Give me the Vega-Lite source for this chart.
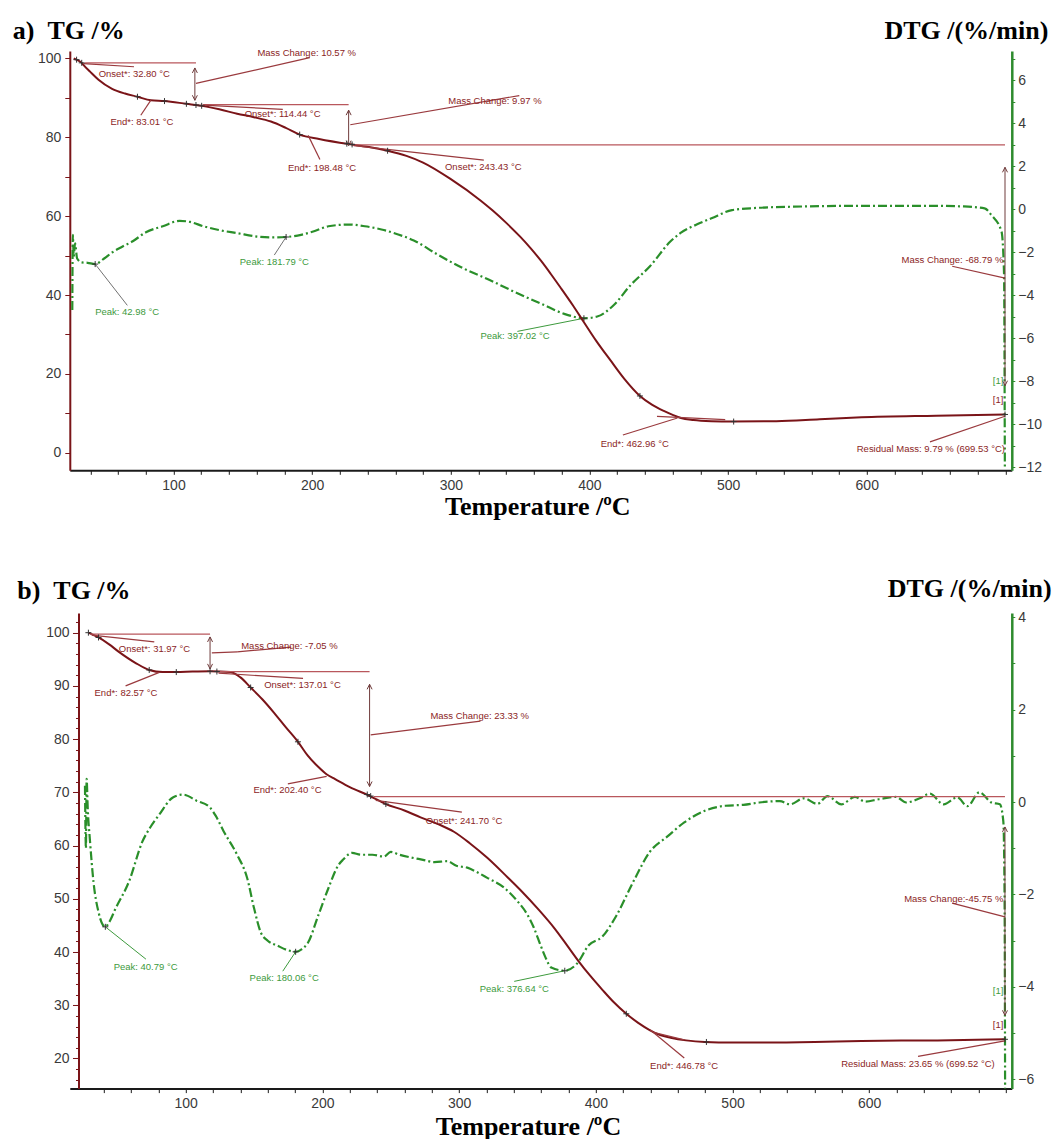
{
  "$schema": "https://vega.github.io/schema/vega-lite/v6.json",
  "background": "white",
  "padding": {"left": 11.8, "top": 17, "right": 2, "bottom": 0},
  "spacing": 142,
  "bounds": "flush",
  "config": {
    "view": {"stroke": null},
    "axis": {"grid": false, "labelFont": "Liberation Sans", "labelFontSize": 14, "labelColor": "#3a3a3a", "labelOverlap": false, "labelFlush": false, "titleFont": "Liberation Serif", "titleFontSize": 26, "titleFontWeight": "bold", "titleColor": "#000000"},
    "text": {"font": "Liberation Sans", "fontSize": 9.5}
  },
  "datasets": {
    "aTG": [
      {"T": 28, "v": 100.0}, {"T": 30.1, "v": 99.7}, {"T": 33.8, "v": 98.9}, {"T": 35, "v": 98.4}, {"T": 40, "v": 96.6}, {"T": 45.9, "v": 94.6}, {"T": 55.7, "v": 92.3}, {"T": 65, "v": 91.1}, {"T": 74, "v": 90.3}, {"T": 83.7, "v": 89.4}, {"T": 93.5, "v": 89.2}, {"T": 109.3, "v": 88.5}, {"T": 120.3, "v": 88.0}, {"T": 133, "v": 87.1}, {"T": 145.9, "v": 86.0}, {"T": 158, "v": 85.1}, {"T": 170.3, "v": 84.0}, {"T": 181, "v": 82.4}, {"T": 191, "v": 80.7}, {"T": 205, "v": 79.6}, {"T": 226.3, "v": 78.3}, {"T": 240, "v": 77.6}, {"T": 254.4, "v": 76.6}, {"T": 268, "v": 75.3}, {"T": 280, "v": 73.6}, {"T": 300, "v": 69.4}, {"T": 321.4, "v": 64.0}, {"T": 330, "v": 61.5}, {"T": 340, "v": 58.3}, {"T": 350, "v": 54.8}, {"T": 357.5, "v": 51.9}, {"T": 365, "v": 48.7}, {"T": 372, "v": 45.4}, {"T": 379.1, "v": 41.9}, {"T": 388, "v": 37.4}, {"T": 396, "v": 33.1}, {"T": 405, "v": 28.3}, {"T": 415.2, "v": 23.4}, {"T": 425, "v": 18.8}, {"T": 436.4, "v": 14.4}, {"T": 445, "v": 12.2}, {"T": 453.6, "v": 10.6}, {"T": 460, "v": 9.6}, {"T": 466, "v": 8.8}, {"T": 475, "v": 8.3}, {"T": 488, "v": 8.0}, {"T": 502.8, "v": 7.9}, {"T": 534.8, "v": 8.0}, {"T": 566, "v": 8.5}, {"T": 596.3, "v": 9.0}, {"T": 650, "v": 9.4}, {"T": 699.7, "v": 9.7}
    ],
    "aDTG": [
      {"T": 27.0, "v": -4.7}, {"T": 27.4, "v": -1.2}, {"T": 28.0, "v": -2.2}, {"T": 29.0, "v": -1.6}, {"T": 30.5, "v": -2.3}, {"T": 33.8, "v": -2.48}, {"T": 38, "v": -2.5}, {"T": 43.5, "v": -2.56}, {"T": 50, "v": -2.3}, {"T": 55.7, "v": -2.02}, {"T": 63, "v": -1.75}, {"T": 70.3, "v": -1.51}, {"T": 80.1, "v": -1.08}, {"T": 92.3, "v": -0.8}, {"T": 104.4, "v": -0.55}, {"T": 112, "v": -0.6}, {"T": 121.5, "v": -0.8}, {"T": 133, "v": -0.98}, {"T": 145.9, "v": -1.12}, {"T": 160.5, "v": -1.28}, {"T": 171, "v": -1.32}, {"T": 181.2, "v": -1.3}, {"T": 192, "v": -1.2}, {"T": 201.9, "v": -1.02}, {"T": 211.7, "v": -0.8}, {"T": 226.3, "v": -0.72}, {"T": 238, "v": -0.8}, {"T": 250, "v": -0.95}, {"T": 262, "v": -1.18}, {"T": 273.3, "v": -1.46}, {"T": 290, "v": -2.1}, {"T": 309.4, "v": -2.77}, {"T": 328, "v": -3.3}, {"T": 345.5, "v": -3.84}, {"T": 365, "v": -4.4}, {"T": 384, "v": -4.92}, {"T": 396, "v": -5.08}, {"T": 405.6, "v": -5.0}, {"T": 417.6, "v": -4.46}, {"T": 429.6, "v": -3.54}, {"T": 443.8, "v": -2.65}, {"T": 458.5, "v": -1.5}, {"T": 466, "v": -1.1}, {"T": 478, "v": -0.7}, {"T": 488, "v": -0.43}, {"T": 502.8, "v": -0.05}, {"T": 520, "v": 0.05}, {"T": 547.2, "v": 0.11}, {"T": 596.3, "v": 0.15}, {"T": 645.5, "v": 0.15}, {"T": 670, "v": 0.12}, {"T": 685, "v": 0.03}, {"T": 689.9, "v": -0.28}, {"T": 697.2, "v": -1.05}, {"T": 699.0, "v": -3.0}, {"T": 699.6, "v": -12.1}
    ],
    "aSegTG": [
      {"T": 36.2, "v": 98.9, "T2": 116.2, "v2": 98.9, "k": "ref"},
      {"T": 35, "v": 98.7, "T2": 71.5, "v2": 97.9, "k": "lead"},
      {"T": 116.2, "v": 93.7, "T2": 198.3, "v2": 100.2, "k": "lead"},
      {"T": 83.7, "v": 89.45, "T2": 76.4, "v2": 85.6, "k": "lead"},
      {"T": 121, "v": 88.3, "T2": 226.3, "v2": 88.3, "k": "ref"},
      {"T": 121.5, "v": 88.17, "T2": 178.8, "v2": 87.1, "k": "lead"},
      {"T": 227.5, "v": 83.2, "T2": 349.4, "v2": 90.6, "k": "lead"},
      {"T": 197.1, "v": 80.5, "T2": 205.6, "v2": 74.4, "k": "lead"},
      {"T": 228.8, "v": 78.1, "T2": 699.7, "v2": 78.1, "k": "ref"},
      {"T": 230, "v": 77.9, "T2": 323.8, "v2": 74.2, "k": "lead"},
      {"T": 463.5, "v": 8.8, "T2": 424.1, "v2": 4.5, "k": "lead"},
      {"T": 448.7, "v": 9.24, "T2": 497.9, "v2": 8.4, "k": "lead"},
      {"T": 699.7, "v": 9.24, "T2": 645.6, "v2": 2.75, "k": "lead"},
      {"T": 699.7, "v": 44.3, "T2": 661.6, "v2": 47.3, "k": "lead"}
    ],
    "aArr": [
      {"T": 115.4, "v": 97.6, "v2": 89.4},
      {"T": 226.3, "v": 86.9, "v2": 77.9},
      {"T": 699.7, "v": 72.4, "v2": 17.0}
    ],
    "aHead": [
      {"T": 115.4, "v": 97.6, "d": "up"}, {"T": 115.4, "v": 89.4, "d": "down"},
      {"T": 226.3, "v": 86.9, "d": "up"}, {"T": 226.3, "v": 77.9, "d": "down"},
      {"T": 699.7, "v": 72.4, "d": "up"}, {"T": 699.7, "v": 17.0, "d": "down"}
    ],
    "aCrossTG": [
      {"T": 30.1, "v": 99.7}, {"T": 33.8, "v": 98.9}, {"T": 74, "v": 90.3}, {"T": 93.5, "v": 89.2}, {"T": 109.3, "v": 88.5}, {"T": 116.2, "v": 88.2}, {"T": 120.3, "v": 88.0}, {"T": 191, "v": 80.7}, {"T": 225, "v": 78.4}, {"T": 228.8, "v": 78.2}, {"T": 254.4, "v": 76.6}, {"T": 436.4, "v": 14.4}, {"T": 504, "v": 7.9}, {"T": 699.7, "v": 9.7}
    ],
    "aCrossDTG": [
      {"T": 43.5, "v": -2.56}, {"T": 181.2, "v": -1.3}, {"T": 396, "v": -5.08}
    ],
    "aSegDTG": [
      {"T": 43.5, "v": -2.56, "T2": 66.7, "v2": -4.48, "k": "gray"},
      {"T": 181.2, "v": -1.3, "T2": 172.7, "v2": -2.14, "k": "gray"},
      {"T": 348, "v": -5.69, "T2": 396, "v2": -5.08, "k": "green"}
    ],
    "aTxtTG": [
      {"T": 46, "v": 96.05, "s": "Onset*: 32.80 °C", "k": "red", "al": "l"},
      {"T": 160.5, "v": 101.5, "s": "Mass Change:  10.57 %", "k": "red", "al": "l"},
      {"T": 54.5, "v": 83.9, "s": "End*: 83.01 °C", "k": "red", "al": "l"},
      {"T": 151.3, "v": 85.8, "s": "Onset*: 114.44 °C", "k": "red", "al": "l"},
      {"T": 298.2, "v": 89.3, "s": "Mass Change:  9.97 %", "k": "red", "al": "l"},
      {"T": 182.5, "v": 72.3, "s": "End*: 198.48 °C", "k": "red", "al": "l"},
      {"T": 295.8, "v": 72.5, "s": "Onset*: 243.43 °C", "k": "red", "al": "l"},
      {"T": 408.1, "v": 2.3, "s": "End*: 462.96 °C", "k": "red", "al": "l"},
      {"T": 699.7, "v": 1.02, "s": "Residual Mass: 9.79 % (699.53 °C)", "k": "red", "al": "r"},
      {"T": 698.5, "v": 48.8, "s": "Mass Change: -68.79 %", "k": "red", "al": "r"},
      {"T": 698.5, "v": 18.3, "s": "[1]", "k": "green", "al": "r"},
      {"T": 698.5, "v": 13.4, "s": "[1]", "k": "red", "al": "r"}
    ],
    "aTxtDTG": [
      {"T": 43.5, "v": -4.79, "s": "Peak: 42.98 °C"},
      {"T": 147.8, "v": -2.45, "s": "Peak: 181.79 °C"},
      {"T": 321.4, "v": -5.92, "s": "Peak: 397.02 °C"}
    ],
    "bTG": [
      {"T": 28.8, "v": 100.0}, {"T": 36.2, "v": 99.1}, {"T": 44, "v": 97.8}, {"T": 51.1, "v": 96.4}, {"T": 63.4, "v": 94.3}, {"T": 73.3, "v": 93.0}, {"T": 83.2, "v": 92.6}, {"T": 93.1, "v": 92.6}, {"T": 105, "v": 92.7}, {"T": 117.8, "v": 92.75}, {"T": 132.7, "v": 92.6}, {"T": 140, "v": 91.6}, {"T": 147.5, "v": 89.7}, {"T": 156, "v": 87.5}, {"T": 164.8, "v": 84.9}, {"T": 173, "v": 82.3}, {"T": 182.1, "v": 79.5}, {"T": 189, "v": 77.0}, {"T": 196.9, "v": 74.8}, {"T": 203, "v": 73.4}, {"T": 209.3, "v": 72.5}, {"T": 220, "v": 71.0}, {"T": 234, "v": 69.4}, {"T": 246.4, "v": 67.8}, {"T": 260, "v": 66.6}, {"T": 271.8, "v": 65.3}, {"T": 285, "v": 64.0}, {"T": 296.2, "v": 62.6}, {"T": 308, "v": 60.4}, {"T": 320.6, "v": 57.7}, {"T": 335.2, "v": 54.1}, {"T": 345, "v": 51.6}, {"T": 358, "v": 48.0}, {"T": 369.9, "v": 44.4}, {"T": 379.1, "v": 41.2}, {"T": 387.3, "v": 38.3}, {"T": 396, "v": 35.5}, {"T": 404.8, "v": 32.9}, {"T": 413, "v": 30.6}, {"T": 422.3, "v": 28.4}, {"T": 431, "v": 26.7}, {"T": 439.7, "v": 25.3}, {"T": 447, "v": 24.4}, {"T": 454.7, "v": 23.9}, {"T": 466, "v": 23.4}, {"T": 479.7, "v": 23.1}, {"T": 500, "v": 23.0}, {"T": 519.6, "v": 23.0}, {"T": 560, "v": 23.1}, {"T": 594.5, "v": 23.3}, {"T": 650, "v": 23.4}, {"T": 699.3, "v": 23.6}
    ],
    "bDTG": [
      {"T": 26.3, "v": 0.35}, {"T": 27, "v": -1.0}, {"T": 27.5, "v": 0.5}, {"T": 28.3, "v": -0.12}, {"T": 30, "v": -0.85}, {"T": 32.5, "v": -1.72}, {"T": 36.2, "v": -2.38}, {"T": 41.2, "v": -2.70}, {"T": 44, "v": -2.6}, {"T": 48.6, "v": -2.31}, {"T": 58.5, "v": -1.72}, {"T": 68.4, "v": -0.85}, {"T": 74, "v": -0.55}, {"T": 80.7, "v": -0.27}, {"T": 90.6, "v": 0.10}, {"T": 98, "v": 0.16}, {"T": 107.9, "v": 0.03}, {"T": 117.8, "v": -0.12}, {"T": 122, "v": -0.3}, {"T": 127.7, "v": -0.63}, {"T": 137.6, "v": -1.14}, {"T": 145, "v": -1.65}, {"T": 150, "v": -2.3}, {"T": 154.9, "v": -2.82}, {"T": 160, "v": -3.0}, {"T": 167.3, "v": -3.11}, {"T": 174, "v": -3.2}, {"T": 180.4, "v": -3.24}, {"T": 185, "v": -3.18}, {"T": 189.5, "v": -3.04}, {"T": 196.9, "v": -2.46}, {"T": 204.3, "v": -1.87}, {"T": 211.8, "v": -1.36}, {"T": 215, "v": -1.25}, {"T": 221.7, "v": -1.10}, {"T": 228, "v": -1.14}, {"T": 236.5, "v": -1.14}, {"T": 245, "v": -1.18}, {"T": 250, "v": -1.08}, {"T": 256.3, "v": -1.14}, {"T": 265, "v": -1.2}, {"T": 273.6, "v": -1.25}, {"T": 282, "v": -1.3}, {"T": 291.3, "v": -1.28}, {"T": 298, "v": -1.38}, {"T": 306, "v": -1.42}, {"T": 312, "v": -1.5}, {"T": 320.6, "v": -1.64}, {"T": 332.8, "v": -1.85}, {"T": 342.5, "v": -2.14}, {"T": 349.8, "v": -2.43}, {"T": 354.7, "v": -2.72}, {"T": 359.6, "v": -3.1}, {"T": 363, "v": -3.35}, {"T": 367.4, "v": -3.58}, {"T": 377.3, "v": -3.65}, {"T": 386.1, "v": -3.5}, {"T": 394.8, "v": -3.10}, {"T": 404.8, "v": -2.91}, {"T": 414.8, "v": -2.47}, {"T": 427.3, "v": -1.73}, {"T": 439.7, "v": -1.07}, {"T": 452.2, "v": -0.75}, {"T": 464.7, "v": -0.44}, {"T": 479.7, "v": -0.19}, {"T": 494.7, "v": -0.08}, {"T": 508, "v": -0.06}, {"T": 519.6, "v": -0.01}, {"T": 534.6, "v": 0.02}, {"T": 542.1, "v": -0.05}, {"T": 552.1, "v": 0.08}, {"T": 562.1, "v": -0.04}, {"T": 569.5, "v": 0.13}, {"T": 579.5, "v": -0.05}, {"T": 589.5, "v": 0.11}, {"T": 597, "v": 0.01}, {"T": 607, "v": 0.06}, {"T": 619.5, "v": 0.11}, {"T": 627, "v": -0.01}, {"T": 636.9, "v": 0.08}, {"T": 644.4, "v": 0.18}, {"T": 654.4, "v": -0.05}, {"T": 664.4, "v": 0.1}, {"T": 671.9, "v": -0.09}, {"T": 680.6, "v": 0.21}, {"T": 689.4, "v": -0.01}, {"T": 695.6, "v": -0.05}, {"T": 698.1, "v": -0.42}, {"T": 699.0, "v": -2.0}, {"T": 699.4, "v": -6.2}
    ],
    "bSegTG": [
      {"T": 30.0, "v": 99.73, "T2": 117.8, "v2": 99.73, "k": "ref"},
      {"T": 31.3, "v": 99.54, "T2": 77, "v2": 98.27, "k": "lead"},
      {"T": 119.1, "v": 96.2, "T2": 137.6, "v2": 96.4, "k": "lead"},
      {"T": 137.6, "v": 96.4, "T2": 177.2, "v2": 97.3, "k": "lead"},
      {"T": 80.7, "v": 92.55, "T2": 56, "v2": 90.0, "k": "lead"},
      {"T": 122.8, "v": 92.68, "T2": 234.5, "v2": 92.68, "k": "ref"},
      {"T": 124, "v": 92.4, "T2": 185.8, "v2": 91.4, "k": "lead"},
      {"T": 235.3, "v": 80.8, "T2": 315.6, "v2": 83.4, "k": "lead"},
      {"T": 203.1, "v": 73.0, "T2": 174.7, "v2": 71.6, "k": "lead"},
      {"T": 237.7, "v": 69.2, "T2": 699.3, "v2": 69.2, "k": "ref"},
      {"T": 239, "v": 68.5, "T2": 302, "v2": 66.3, "k": "lead"},
      {"T": 439.7, "v": 25.4, "T2": 464.7, "v2": 20.1, "k": "lead"},
      {"T": 442.2, "v": 24.9, "T2": 464.7, "v2": 23.5, "k": "lead"},
      {"T": 699.3, "v": 23.3, "T2": 635.7, "v2": 20.4, "k": "lead"},
      {"T": 699.3, "v": 46.6, "T2": 660.6, "v2": 49.2, "k": "lead"}
    ],
    "bArr": [
      {"T": 117.8, "v": 99.2, "v2": 93.2},
      {"T": 234.5, "v": 90.3, "v2": 71.1},
      {"T": 699.3, "v": 63.5, "v2": 28.1}
    ],
    "bHead": [
      {"T": 117.8, "v": 99.2, "d": "up"}, {"T": 117.8, "v": 93.2, "d": "down"},
      {"T": 234.5, "v": 90.3, "d": "up"}, {"T": 234.5, "v": 71.1, "d": "down"},
      {"T": 699.3, "v": 63.5, "d": "up"}, {"T": 699.3, "v": 28.1, "d": "down"}
    ],
    "bCrossTG": [
      {"T": 28.8, "v": 100.0}, {"T": 36.2, "v": 99.1}, {"T": 73.3, "v": 93.0}, {"T": 93.1, "v": 92.6}, {"T": 117.8, "v": 92.75}, {"T": 122.8, "v": 92.7}, {"T": 147.5, "v": 89.7}, {"T": 182.1, "v": 79.5}, {"T": 232.8, "v": 69.6}, {"T": 235.3, "v": 69.3}, {"T": 246.4, "v": 67.8}, {"T": 422.3, "v": 28.4}, {"T": 480.9, "v": 23.1}, {"T": 699.3, "v": 23.6}
    ],
    "bCrossDTG": [
      {"T": 41.2, "v": -2.70}, {"T": 180.4, "v": -3.24}, {"T": 377.3, "v": -3.65}
    ],
    "bSegDTG": [
      {"T": 41.2, "v": -2.70, "T2": 70.9, "v2": -3.40, "k": "green"},
      {"T": 180.4, "v": -3.24, "T2": 171, "v2": -3.66, "k": "green"},
      {"T": 377.3, "v": -3.65, "T2": 340.3, "v2": -3.88, "k": "green"}
    ],
    "bTxtTG": [
      {"T": 51.1, "v": 97.0, "s": "Onset*: 31.97 °C", "k": "red", "al": "l"},
      {"T": 140.6, "v": 97.5, "s": "Mass Change: -7.05 %", "k": "red", "al": "l"},
      {"T": 33.3, "v": 88.7, "s": "End*: 82.57 °C", "k": "red", "al": "l"},
      {"T": 157.4, "v": 90.1, "s": "Onset*: 137.01 °C", "k": "red", "al": "l"},
      {"T": 279, "v": 84.3, "s": "Mass Change:  23.33 %", "k": "red", "al": "l"},
      {"T": 149.5, "v": 70.4, "s": "End*: 202.40 °C", "k": "red", "al": "l"},
      {"T": 275.6, "v": 64.6, "s": "Onset*: 241.70 °C", "k": "red", "al": "l"},
      {"T": 439.7, "v": 18.6, "s": "End*: 446.78 °C", "k": "red", "al": "l"},
      {"T": 691.8, "v": 18.96, "s": "Residual Mass: 23.65 % (699.52 °C)", "k": "red", "al": "r"},
      {"T": 698.1, "v": 50.05, "s": "Mass Change:-45.75 %", "k": "red", "al": "r"},
      {"T": 698.1, "v": 32.6, "s": "[1]", "k": "green", "al": "r"},
      {"T": 698.1, "v": 26.3, "s": "[1]", "k": "red", "al": "r"}
    ],
    "bTxtDTG": [
      {"T": 47.3, "v": -3.57, "s": "Peak: 40.79 °C"},
      {"T": 146.7, "v": -3.81, "s": "Peak: 180.06 °C"},
      {"T": 315.1, "v": -4.05, "s": "Peak: 376.64 °C"}
    ]
  },
  "vconcat": [
    {
      "width": 942,
      "height": 419.3,
      "resolve": {"scale": {"y": "independent"}},
      "encoding": {
        "x": {"field": "T", "type": "quantitative", "scale": {"domain": [25.2, 704.6], "nice": false, "zero": false},
          "axis": {"values": [40, 60, 80, 100, 120, 140, 160, 180, 200, 220, 240, 260, 280, 300, 320, 340, 360, 380, 400, 420, 440, 460, 480, 500, 520, 540, 560, 580, 600, 620, 640, 660, 680, 700],
            "labelExpr": "datum.value % 100 === 0 && datum.value < 700 ? datum.label : ''",
            "title": "Temperature /ºC", "titleX": 467.5, "titleY": 44, "titleAlign": "center", "titleBaseline": "alphabetic",
            "domainColor": "#1a1a1a", "domainWidth": 2, "tickColor": "#1a1a1a", "tickSize": 4, "labelPadding": 4}}
      },
      "layer": [
        {
          "data": {"name": "aDTG"},
          "mark": {"type": "line", "color": "#2a8f2a", "strokeWidth": 2.2, "strokeDash": [9, 3, 2, 3], "interpolate": "monotone"},
          "encoding": {
            "y": {"field": "v", "type": "quantitative", "scale": {"domain": [-12.15, 7.35], "nice": false, "zero": false},
              "axis": {"orient": "right", "values": [-12, -11, -10, -9, -8, -7, -6, -5, -4, -3, -2, -1, 0, 1, 2, 3, 4, 5, 6, 7],
                "labelExpr": "datum.value % 2 === 0 ? datum.label : ''",
                "title": "DTG /(%/min)", "titleAngle": 0, "titleAlign": "right", "titleBaseline": "alphabetic", "titleX": 36, "titleY": -12.7,
                "domainColor": "#2e8b2e", "domainWidth": 2.5, "tickColor": "#2e8b2e", "tickSize": 3, "labelPadding": 3}}
          }
        },
        {
          "data": {"name": "aSegDTG"},
          "mark": {"type": "rule", "strokeWidth": 1},
          "encoding": {
            "x2": {"field": "T2"},
            "y": {"field": "v", "type": "quantitative", "scale": {"domain": [-12.15, 7.35], "nice": false, "zero": false}, "axis": null},
            "y2": {"field": "v2"},
            "color": {"field": "k", "type": "nominal", "scale": {"domain": ["ref", "lead", "gray", "green", "red"], "range": ["#b9575c", "#9a3a3e", "#707070", "#3c9a3c", "#8b2525"]}, "legend": null}
          }
        },
        {
          "data": {"name": "aCrossDTG"},
          "mark": {"type": "point", "shape": "M-1,0L1,0M0,-1L0,1", "size": 36, "filled": false, "color": "#333333", "strokeWidth": 1, "opacity": 1},
          "encoding": {
            "y": {"field": "v", "type": "quantitative", "scale": {"domain": [-12.15, 7.35], "nice": false, "zero": false}, "axis": null}
          }
        },
        {
          "data": {"name": "aTxtDTG"},
          "mark": {"type": "text", "align": "left", "baseline": "middle", "color": "#3c9a3c"},
          "encoding": {
            "y": {"field": "v", "type": "quantitative", "scale": {"domain": [-12.15, 7.35], "nice": false, "zero": false}, "axis": null},
            "text": {"field": "s"}
          }
        },
        {
          "data": {"name": "aTG"},
          "mark": {"type": "line", "color": "#7a1418", "strokeWidth": 2, "interpolate": "monotone"},
          "encoding": {
            "y": {"field": "v", "type": "quantitative", "scale": {"domain": [-4.46, 101.9], "nice": false, "zero": false},
              "axis": {"orient": "left", "values": [0, 10, 20, 30, 40, 50, 60, 70, 80, 90, 100],
                "labelExpr": "datum.value % 20 === 0 ? datum.label : ''",
                "title": "a)\u00a0\u00a0TG /%", "titleAngle": 0, "titleAlign": "left", "titleBaseline": "alphabetic", "titleX": -57.5, "titleY": -13,
                "domainColor": "#7a1418", "domainWidth": 2, "tickColor": "#7a1418", "tickSize": 5, "labelPadding": 4}}
          }
        },
        {
          "data": {"name": "aSegTG"},
          "mark": {"type": "rule", "strokeWidth": 1.2},
          "encoding": {
            "x2": {"field": "T2"},
            "y": {"field": "v", "type": "quantitative", "scale": {"domain": [-4.46, 101.9], "nice": false, "zero": false}, "axis": null},
            "y2": {"field": "v2"},
            "color": {"field": "k", "type": "nominal", "scale": {"domain": ["ref", "lead", "gray", "green", "red"], "range": ["#b9575c", "#9a3a3e", "#707070", "#3c9a3c", "#8b2525"]}, "legend": null}
          }
        },
        {
          "data": {"name": "aArr"},
          "mark": {"type": "rule", "color": "#6e3a3a", "strokeWidth": 1},
          "encoding": {
            "y": {"field": "v", "type": "quantitative", "scale": {"domain": [-4.46, 101.9], "nice": false, "zero": false}, "axis": null},
            "y2": {"field": "v2"}
          }
        },
        {
          "data": {"name": "aHead"},
          "mark": {"type": "point", "filled": false, "size": 100, "color": "#6e3a3a", "strokeWidth": 1, "opacity": 1},
          "encoding": {
            "y": {"field": "v", "type": "quantitative", "scale": {"domain": [-4.46, 101.9], "nice": false, "zero": false}, "axis": null},
            "shape": {"field": "d", "type": "nominal", "scale": {"domain": ["up", "down"], "range": ["M-0.5,1L0,0L0.5,1", "M-0.5,-1L0,0L0.5,-1"]}, "legend": null}
          }
        },
        {
          "data": {"name": "aCrossTG"},
          "mark": {"type": "point", "shape": "M-1,0L1,0M0,-1L0,1", "size": 36, "filled": false, "color": "#333333", "strokeWidth": 1, "opacity": 1},
          "encoding": {
            "y": {"field": "v", "type": "quantitative", "scale": {"domain": [-4.46, 101.9], "nice": false, "zero": false}, "axis": null}
          }
        },
        {
          "data": {"name": "aTxtTG"},
          "transform": [{"filter": "datum.al === 'l'"}],
          "mark": {"type": "text", "align": "left", "baseline": "middle"},
          "encoding": {
            "y": {"field": "v", "type": "quantitative", "scale": {"domain": [-4.46, 101.9], "nice": false, "zero": false}, "axis": null},
            "text": {"field": "s"},
            "color": {"field": "k", "type": "nominal", "scale": {"domain": ["ref", "lead", "gray", "green", "red"], "range": ["#b9575c", "#9a3a3e", "#707070", "#3c9a3c", "#8b2525"]}, "legend": null}
          }
        },
        {
          "data": {"name": "aTxtTG"},
          "transform": [{"filter": "datum.al === 'r'"}],
          "mark": {"type": "text", "align": "right", "baseline": "middle"},
          "encoding": {
            "y": {"field": "v", "type": "quantitative", "scale": {"domain": [-4.46, 101.9], "nice": false, "zero": false}, "axis": null},
            "text": {"field": "s"},
            "color": {"field": "k", "type": "nominal", "scale": {"domain": ["ref", "lead", "gray", "green", "red"], "range": ["#b9575c", "#9a3a3e", "#707070", "#3c9a3c", "#8b2525"]}, "legend": null}
          }
        }
      ]
    },
    {
      "width": 942,
      "height": 475.6,
      "resolve": {"scale": {"y": "independent"}},
      "encoding": {
        "x": {"field": "T", "type": "quantitative", "scale": {"domain": [15.2, 704.3], "nice": false, "zero": false},
          "axis": {"values": [40, 60, 80, 100, 120, 140, 160, 180, 200, 220, 240, 260, 280, 300, 320, 340, 360, 380, 400, 420, 440, 460, 480, 500, 520, 540, 560, 580, 600, 620, 640, 660, 680, 700],
            "labelExpr": "datum.value % 100 === 0 && datum.value < 700 ? datum.label : ''",
            "title": "Temperature /ºC", "titleX": 458.2, "titleY": 45.5, "titleAlign": "center", "titleBaseline": "alphabetic",
            "domainColor": "#1a1a1a", "domainWidth": 2, "tickColor": "#1a1a1a", "tickSize": 4, "labelPadding": 4}}
      },
      "layer": [
        {
          "data": {"name": "bDTG"},
          "mark": {"type": "line", "color": "#2a8f2a", "strokeWidth": 2.2, "strokeDash": [9, 3, 2, 3], "interpolate": "monotone"},
          "encoding": {
            "y": {"field": "v", "type": "quantitative", "scale": {"domain": [-6.2, 4.09], "nice": false, "zero": false},
              "axis": {"orient": "right", "values": [-6, -5, -4, -3, -2, -1, 0, 1, 2, 3, 4],
                "labelExpr": "datum.value % 2 === 0 ? datum.label : ''",
                "title": "DTG /(%/min)", "titleAngle": 0, "titleAlign": "right", "titleBaseline": "alphabetic", "titleX": 39.3, "titleY": -16.4,
                "domainColor": "#2e8b2e", "domainWidth": 2.5, "tickColor": "#2e8b2e", "tickSize": 3, "labelPadding": 3}}
          }
        },
        {
          "data": {"name": "bSegDTG"},
          "mark": {"type": "rule", "strokeWidth": 1},
          "encoding": {
            "x2": {"field": "T2"},
            "y": {"field": "v", "type": "quantitative", "scale": {"domain": [-6.2, 4.09], "nice": false, "zero": false}, "axis": null},
            "y2": {"field": "v2"},
            "color": {"field": "k", "type": "nominal", "scale": {"domain": ["ref", "lead", "gray", "green", "red"], "range": ["#b9575c", "#9a3a3e", "#707070", "#3c9a3c", "#8b2525"]}, "legend": null}
          }
        },
        {
          "data": {"name": "bCrossDTG"},
          "mark": {"type": "point", "shape": "M-1,0L1,0M0,-1L0,1", "size": 36, "filled": false, "color": "#333333", "strokeWidth": 1, "opacity": 1},
          "encoding": {
            "y": {"field": "v", "type": "quantitative", "scale": {"domain": [-6.2, 4.09], "nice": false, "zero": false}, "axis": null}
          }
        },
        {
          "data": {"name": "bTxtDTG"},
          "mark": {"type": "text", "align": "left", "baseline": "middle", "color": "#3c9a3c"},
          "encoding": {
            "y": {"field": "v", "type": "quantitative", "scale": {"domain": [-6.2, 4.09], "nice": false, "zero": false}, "axis": null},
            "text": {"field": "s"}
          }
        },
        {
          "data": {"name": "bTG"},
          "mark": {"type": "line", "color": "#7a1418", "strokeWidth": 2, "interpolate": "monotone"},
          "encoding": {
            "y": {"field": "v", "type": "quantitative", "scale": {"domain": [14.34, 103.7], "nice": false, "zero": false},
              "axis": {"orient": "left", "offset": -8.7, "values": [20, 30, 40, 50, 60, 70, 80, 90, 100],
                "title": "b)\u00a0\u00a0TG /%", "titleAngle": 0, "titleAlign": "left", "titleBaseline": "alphabetic", "titleX": -61.8, "titleY": -14.3,
                "domainColor": "#7a1418", "domainWidth": 2, "tickColor": "#7a1418", "tickSize": 6, "labelPadding": 3.5}}
          }
        },
        {
          "data": {"name": "bSegTG"},
          "mark": {"type": "rule", "strokeWidth": 1.2},
          "encoding": {
            "x2": {"field": "T2"},
            "y": {"field": "v", "type": "quantitative", "scale": {"domain": [14.34, 103.7], "nice": false, "zero": false},
              "axis": {"orient": "left", "offset": -8.7, "values": [16, 18, 20, 22, 24, 26, 28, 30, 32, 34, 36, 38, 40, 42, 44, 46, 48, 50, 52, 54, 56, 58, 60, 62, 64, 66, 68, 70, 72, 74, 76, 78, 80, 82, 84, 86, 88, 90, 92, 94, 96, 98, 100, 102],
                "labels": false, "domain": false, "title": null, "tickColor": "#7a1418", "tickSize": 3}},
            "y2": {"field": "v2"},
            "color": {"field": "k", "type": "nominal", "scale": {"domain": ["ref", "lead", "gray", "green", "red"], "range": ["#b9575c", "#9a3a3e", "#707070", "#3c9a3c", "#8b2525"]}, "legend": null}
          }
        },
        {
          "data": {"name": "bArr"},
          "mark": {"type": "rule", "color": "#6e3a3a", "strokeWidth": 1},
          "encoding": {
            "y": {"field": "v", "type": "quantitative", "scale": {"domain": [14.34, 103.7], "nice": false, "zero": false}, "axis": null},
            "y2": {"field": "v2"}
          }
        },
        {
          "data": {"name": "bHead"},
          "mark": {"type": "point", "filled": false, "size": 100, "color": "#6e3a3a", "strokeWidth": 1, "opacity": 1},
          "encoding": {
            "y": {"field": "v", "type": "quantitative", "scale": {"domain": [14.34, 103.7], "nice": false, "zero": false}, "axis": null},
            "shape": {"field": "d", "type": "nominal", "scale": {"domain": ["up", "down"], "range": ["M-0.5,1L0,0L0.5,1", "M-0.5,-1L0,0L0.5,-1"]}, "legend": null}
          }
        },
        {
          "data": {"name": "bCrossTG"},
          "mark": {"type": "point", "shape": "M-1,0L1,0M0,-1L0,1", "size": 36, "filled": false, "color": "#333333", "strokeWidth": 1, "opacity": 1},
          "encoding": {
            "y": {"field": "v", "type": "quantitative", "scale": {"domain": [14.34, 103.7], "nice": false, "zero": false}, "axis": null}
          }
        },
        {
          "data": {"name": "bTxtTG"},
          "transform": [{"filter": "datum.al === 'l'"}],
          "mark": {"type": "text", "align": "left", "baseline": "middle"},
          "encoding": {
            "y": {"field": "v", "type": "quantitative", "scale": {"domain": [14.34, 103.7], "nice": false, "zero": false}, "axis": null},
            "text": {"field": "s"},
            "color": {"field": "k", "type": "nominal", "scale": {"domain": ["ref", "lead", "gray", "green", "red"], "range": ["#b9575c", "#9a3a3e", "#707070", "#3c9a3c", "#8b2525"]}, "legend": null}
          }
        },
        {
          "data": {"name": "bTxtTG"},
          "transform": [{"filter": "datum.al === 'r'"}],
          "mark": {"type": "text", "align": "right", "baseline": "middle"},
          "encoding": {
            "y": {"field": "v", "type": "quantitative", "scale": {"domain": [14.34, 103.7], "nice": false, "zero": false}, "axis": null},
            "text": {"field": "s"},
            "color": {"field": "k", "type": "nominal", "scale": {"domain": ["ref", "lead", "gray", "green", "red"], "range": ["#b9575c", "#9a3a3e", "#707070", "#3c9a3c", "#8b2525"]}, "legend": null}
          }
        }
      ]
    }
  ]
}
